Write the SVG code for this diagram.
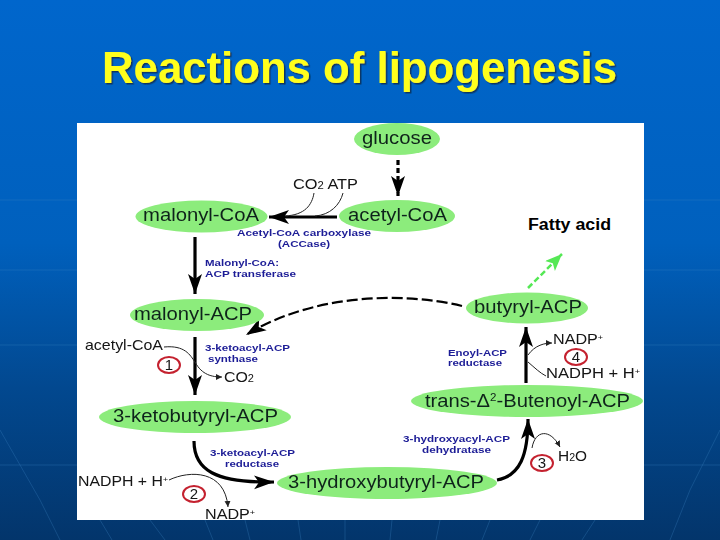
<svg xmlns="http://www.w3.org/2000/svg" width="720" height="540" viewBox="0 0 720 540">
<style>
text{font-family:"Liberation Sans",Arial,sans-serif}
.node{fill:#8cec7c}
.nt{font-size:17.5px;fill:#10241a}
.en{font-size:9px;font-weight:bold;fill:#1c1c96}
.bk{font-size:14.5px;fill:#141414}
.num{font-size:15px;fill:#141414;text-anchor:middle}
.ring{fill:#fff;stroke:#c4202f;stroke-width:2}
.thick{fill:none;stroke:#000;stroke-width:3.2}
.thin{fill:none;stroke:#222;stroke-width:1}
.bg{fill:none;stroke:#3f83c4;stroke-width:1;opacity:.3}
</style>
<defs>
<linearGradient id="sky" x1="0" y1="0" x2="0" y2="1">
<stop offset="0" stop-color="#0066cc"/><stop offset=".45" stop-color="#0060bd"/><stop offset=".72" stop-color="#02488f"/><stop offset="1" stop-color="#03356b"/>
</linearGradient>
<filter id="shadow" x="-5%" y="-20%" width="110%" height="140%"><feDropShadow dx="1.5" dy="1.5" stdDeviation=".6" flood-color="#0a3560"/></filter>
<filter id="soft" x="0" y="0" width="100%" height="100%"><feGaussianBlur stdDeviation=".35"/></filter>
<marker id="big" markerUnits="userSpaceOnUse" markerWidth="26" markerHeight="18" refX="20" refY="8" orient="auto"><path d="M0,1 L20,8 L0,15 L5,8 Z" fill="#000"/></marker>
<marker id="small" markerUnits="userSpaceOnUse" markerWidth="8" markerHeight="8" refX="6" refY="3" orient="auto"><path d="M0,0 L6,3 L0,6 Z" fill="#222"/></marker>
<marker id="green" markerUnits="userSpaceOnUse" markerWidth="20" markerHeight="16" refX="17" refY="7" orient="auto"><path d="M0,0 L17,7 L0,14 L4,7 Z" fill="#55e855"/></marker>
</defs>
<rect width="720" height="540" fill="url(#sky)"/>
<g id="backdrop">
<path class="bg" d="M0,345H77M0,465H77M644,345H720M644,465H720M644,200H720M644,270H720M0,200H77M0,270H77"/>
<path class="bg" d="M100,520L112,540M150,520L165,540M205,520L213,540M245,520L250,540M298,520L301,540M345,520L345,540M392,520L390,540M440,520L436,540M490,520L482,540M540,520L530,540M595,520L582,540M0,430L40,500L60,540M720,430L690,490L670,540"/>
</g>
<rect id="panel" x="77" y="123" width="567" height="397" fill="#fff"/>
<text x="359.500" y="83" text-anchor="middle" font-size="44" font-weight="bold" fill="#ffff1a" filter="url(#shadow)" textLength="515" lengthAdjust="spacingAndGlyphs">Reactions of lipogenesis</text>
<g filter="url(#soft)">
<g id="connectors">
<path class="thick" stroke-dasharray="5 3" d="M398,160V196" marker-end="url(#big)"/>
<path class="thick" d="M337,217H269" marker-end="url(#big)"/>
<path class="thick" d="M195,237V294" marker-end="url(#big)"/>
<path class="thick" style="stroke-width:2.2" stroke-dasharray="11 4" d="M462,306C400,291 310,295 246,335" marker-end="url(#big)"/>
<path class="thick" d="M195,337V395" marker-end="url(#big)"/>
<path class="thick" d="M194,441C194,470 215,483 274,482" marker-end="url(#big)"/>
<path class="thick" d="M497,480C520,476 528,455 528,419" marker-end="url(#big)"/>
<path class="thick" d="M526,383V327" marker-end="url(#big)"/>
<path d="M528,288L562,254" fill="none" stroke="#55e855" stroke-width="2.500" stroke-dasharray="6 3" marker-end="url(#green)"/>
<path class="thin" d="M314,193C312,205 305,215 285,216"/>
<path class="thin" d="M343,193C340,205 330,215 315,216"/>
<path class="thin" d="M164,347C185,345 190,355 195,362C202,375 212,377 222,377" marker-end="url(#small)"/>
<path class="thin" d="M169,480C190,470 225,470 228,507" marker-end="url(#small)"/>
<path class="thin" d="M532,448C535,430 550,428 560,447" marker-end="url(#small)"/>
<path class="thin" d="M528,355C535,345 545,343 552,343" marker-end="url(#small)"/>
<path class="thin" d="M528,362C535,368 540,373 546,376"/>
</g>
<g id="glucose"><ellipse class="node" cx="397" cy="139" rx="43" ry="16"/><text class="nt" x="362" y="144" textLength="70" lengthAdjust="spacingAndGlyphs">glucose</text></g>
<g id="malonyl-coa"><ellipse class="node" cx="201.500" cy="216.500" rx="66" ry="16"/><text class="nt" x="143" y="221" textLength="116" lengthAdjust="spacingAndGlyphs">malonyl-CoA</text></g>
<g id="acetyl-coa"><ellipse class="node" cx="397" cy="216" rx="58" ry="16"/><text class="nt" x="348" y="221" textLength="99" lengthAdjust="spacingAndGlyphs">acetyl-CoA</text></g>
<g id="malonyl-acp"><ellipse class="node" cx="197" cy="315" rx="67" ry="16"/><text class="nt" x="134" y="320" textLength="118" lengthAdjust="spacingAndGlyphs">malonyl-ACP</text></g>
<g id="butyryl-acp"><ellipse class="node" cx="527" cy="308" rx="61" ry="15.500"/><text class="nt" x="474" y="313" textLength="108" lengthAdjust="spacingAndGlyphs">butyryl-ACP</text></g>
<g id="ketobutyryl-acp"><ellipse class="node" cx="195" cy="417" rx="96" ry="16"/><text class="nt" x="113" y="422" textLength="165" lengthAdjust="spacingAndGlyphs">3-ketobutyryl-ACP</text></g>
<g id="hydroxybutyryl-acp"><ellipse class="node" cx="387" cy="483" rx="110" ry="16"/><text class="nt" x="288" y="488" textLength="196" lengthAdjust="spacingAndGlyphs">3-hydroxybutyryl-ACP</text></g>
<g id="butenoyl-acp"><ellipse class="node" cx="527" cy="401" rx="116" ry="16"/><text class="nt" x="425" y="407" textLength="205" lengthAdjust="spacingAndGlyphs">trans-Δ<tspan font-size="10" dy="-6">2</tspan><tspan dy="6">-Butenoyl-ACP</tspan></text></g>
<g id="step-1"><ellipse class="ring" cx="169" cy="365" rx="11" ry="8"/><text class="num" x="169" y="370">1</text></g>
<g id="step-2"><ellipse class="ring" cx="194" cy="494" rx="11" ry="8"/><text class="num" x="194" y="499">2</text></g>
<g id="step-3"><ellipse class="ring" cx="542" cy="463" rx="11" ry="8"/><text class="num" x="542" y="468">3</text></g>
<g id="step-4"><ellipse class="ring" cx="576" cy="357" rx="11" ry="8"/><text class="num" x="576" y="362">4</text></g>
<g id="enzymes">
<text class="en" x="237" y="236" textLength="134" lengthAdjust="spacingAndGlyphs">Acetyl-CoA carboxylase</text>
<text class="en" x="278" y="247" textLength="52" lengthAdjust="spacingAndGlyphs">(ACCase)</text>
<text class="en" x="205" y="266" textLength="74" lengthAdjust="spacingAndGlyphs">Malonyl-CoA:</text>
<text class="en" x="205" y="277" textLength="91" lengthAdjust="spacingAndGlyphs">ACP transferase</text>
<text class="en" x="205" y="351" textLength="85" lengthAdjust="spacingAndGlyphs">3-ketoacyl-ACP</text>
<text class="en" x="208" y="362" textLength="50" lengthAdjust="spacingAndGlyphs">synthase</text>
<text class="en" x="210" y="456" textLength="85" lengthAdjust="spacingAndGlyphs">3-ketoacyl-ACP</text>
<text class="en" x="225" y="467" textLength="54" lengthAdjust="spacingAndGlyphs">reductase</text>
<text class="en" x="403" y="442" textLength="107" lengthAdjust="spacingAndGlyphs">3-hydroxyacyl-ACP</text>
<text class="en" x="422" y="453" textLength="69" lengthAdjust="spacingAndGlyphs">dehydratase</text>
<text class="en" x="448" y="356" textLength="59" lengthAdjust="spacingAndGlyphs">Enoyl-ACP</text>
<text class="en" x="448" y="366" textLength="54" lengthAdjust="spacingAndGlyphs">reductase</text>
</g>
<g id="cofactors">
<text class="bk" x="293" y="189" textLength="65" lengthAdjust="spacingAndGlyphs">CO<tspan font-size="10">2</tspan> ATP</text>
<text class="bk" x="85" y="350" textLength="78" lengthAdjust="spacingAndGlyphs">acetyl-CoA</text>
<text class="bk" x="224" y="382" textLength="30" lengthAdjust="spacingAndGlyphs">CO<tspan font-size="10">2</tspan></text>
<text class="bk" x="78" y="486" textLength="90" lengthAdjust="spacingAndGlyphs">NADPH + H<tspan font-size="8" dy="-4">+</tspan></text>
<text class="bk" x="205" y="519" textLength="50" lengthAdjust="spacingAndGlyphs">NADP<tspan font-size="8" dy="-4">+</tspan></text>
<text class="bk" x="558" y="461" textLength="29" lengthAdjust="spacingAndGlyphs">H<tspan font-size="10">2</tspan>O</text>
<text class="bk" x="553" y="344" textLength="50" lengthAdjust="spacingAndGlyphs">NADP<tspan font-size="8" dy="-4">+</tspan></text>
<text class="bk" x="546" y="378" textLength="94" lengthAdjust="spacingAndGlyphs">NADPH + H<tspan font-size="8" dy="-4">+</tspan></text>
</g>
</g>
<text id="fatty-acid" x="528" y="230" font-size="16" font-weight="bold" fill="#000" textLength="83" lengthAdjust="spacingAndGlyphs">Fatty acid</text>
</svg>
